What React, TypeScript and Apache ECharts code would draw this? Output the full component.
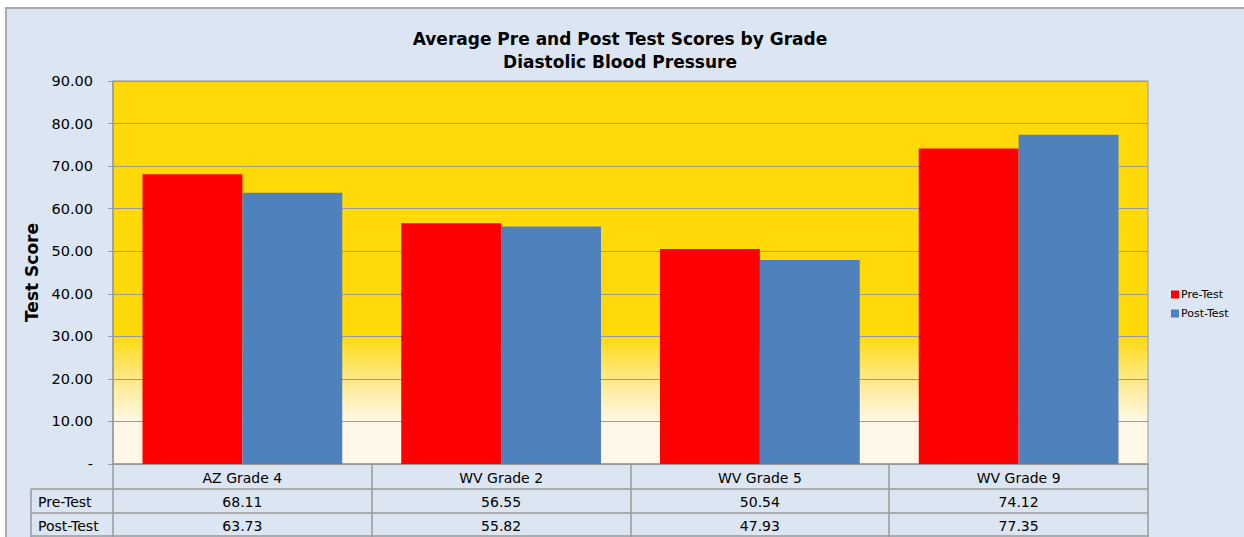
import React, { useEffect, useRef } from "react";
import * as echarts from "echarts";

const categories = ["AZ Grade 4", "WV Grade 2", "WV Grade 5", "WV Grade 9"];
const seriesNames = ["Pre-Test", "Post-Test"];
const preTest = [68.11, 56.55, 50.54, 74.12];
const postTest = [63.73, 55.82, 47.93, 77.35];
const titleLines = ["Average Pre and Post Test Scores by Grade", "Diastolic Blood Pressure"];
const yAxisName = "Test Score";

const FONT = "DejaVu Sans";
const W = 1244;
const H = 537;
const GL = 113;
const GR = 1148;
const GT = 81;
const GB = 464;
const LINE = "#9a9a9a";

export default function App() {
  const ref = useRef<HTMLDivElement>(null);
  useEffect(() => {
    if (!ref.current) return;
    const chart = echarts.init(ref.current, null, { renderer: "svg" });
    const colW = (GR - GL) / categories.length;
    const rowY = [GB, 489, 513, 537];
    const graphics: any[] = [];
    graphics.push({ type: "line", shape: { x1: 31, y1: rowY[1], x2: GR, y2: rowY[1] }, style: { stroke: LINE, lineWidth: 1.5 } });
    graphics.push({ type: "line", shape: { x1: 31, y1: rowY[2], x2: GR, y2: rowY[2] }, style: { stroke: LINE, lineWidth: 1.5 } });
    graphics.push({ type: "line", shape: { x1: 31, y1: 536, x2: GR, y2: 536 }, style: { stroke: LINE, lineWidth: 1.5 } });
    graphics.push({ type: "line", shape: { x1: 31, y1: rowY[1], x2: 31, y2: 537 }, style: { stroke: LINE, lineWidth: 1.5 } });
    for (let i = 0; i <= categories.length; i++) {
      const x = Math.round(GL + i * colW);
      graphics.push({ type: "line", shape: { x1: x, y1: GB, x2: x, y2: 537 }, style: { stroke: LINE, lineWidth: 1.5 } });
    }
    const rows = [preTest, postTest];
    categories.forEach((c, i) => {
      const cx = GL + (i + 0.5) * colW;
      graphics.push({ type: "text", x: cx, y: (rowY[0] + rowY[1]) / 2 + 1, style: { text: c, fill: "#000", font: `14px '${FONT}'`, align: "center", verticalAlign: "middle" } });
      rows.forEach((r, j) => {
        graphics.push({ type: "text", x: cx, y: (rowY[j + 1] + rowY[j + 2]) / 2 + 1, style: { text: r[i].toFixed(2), fill: "#000", font: `14px '${FONT}'`, align: "center", verticalAlign: "middle" } });
      });
    });
    seriesNames.forEach((n, j) => {
      graphics.push({ type: "text", x: 38, y: (rowY[j + 1] + rowY[j + 2]) / 2 + 1, style: { text: n, fill: "#000", font: `14px '${FONT}'`, align: "left", verticalAlign: "middle" } });
    });

    chart.setOption({
      animation: false,
      backgroundColor: "transparent",
      title: {
        text: titleLines.join("\n"),
        left: 615,
        top: 22,
        textAlign: "center",
        textStyle: { fontFamily: FONT, fontSize: 17, fontWeight: "bold", color: "#000", lineHeight: 23 },
      },
      legend: {
        orient: "vertical",
        left: 1166,
        top: 284,
        itemWidth: 8,
        itemHeight: 8,
        itemGap: 8,
        icon: "rect",
        data: seriesNames,
        textStyle: { fontFamily: FONT, fontSize: 11, color: "#000", padding: [0, 0, 0, -3] },
      },
      grid: {
        left: GL,
        right: W - GR,
        top: GT,
        bottom: H - GB,
        show: true,
        borderColor: LINE,
        borderWidth: 1,
        backgroundColor: new echarts.graphic.LinearGradient(0, 0, 0, 1, [
          { offset: 0, color: "#FFD908" },
          { offset: 0.66, color: "#FFD908" },
          { offset: 0.78, color: "#FFE98A" },
          { offset: 0.89, color: "#FFF8E8" },
          { offset: 1, color: "#FFF8E8" },
        ]),
      },
      xAxis: {
        type: "category",
        data: categories,
        axisLine: { show: true, lineStyle: { color: LINE, width: 1.5 } },
        axisTick: { show: false },
        axisLabel: { show: false },
      },
      yAxis: {
        type: "value",
        min: 0,
        max: 90,
        interval: 10,
        name: yAxisName,
        nameLocation: "middle",
        nameGap: 72,
        nameTextStyle: { fontFamily: FONT, fontSize: 17, fontWeight: "bold", color: "#000" },
        axisLine: { show: true, lineStyle: { color: LINE, width: 1.5 } },
        axisTick: { show: true, length: 5, lineStyle: { color: LINE } },
        axisLabel: {
          margin: 20,
          fontFamily: FONT,
          fontSize: 14.5,
          color: "#000",
          formatter: (v: number) => (v === 0 ? "-" : v.toFixed(2)),
        },
        splitLine: { show: true, lineStyle: { color: LINE, width: 1 } },
      },
      series: [
        {
          name: seriesNames[0],
          type: "bar",
          data: preTest,
          barGap: "0%",
          barCategoryGap: "22.8%",
          itemStyle: { color: "#FF0000" },
        },
        {
          name: seriesNames[1],
          type: "bar",
          data: postTest,
          barGap: "0%",
          barCategoryGap: "22.8%",
          itemStyle: { color: "#4F81BD" },
        },
      ],
      graphic: graphics,
    });
    return () => chart.dispose();
  }, []);

  return (
    <div style={{ position: "absolute", left: 0, top: 0, width: W, height: H, background: "#fff", overflow: "hidden" }}>
      <div
        style={{
          position: "absolute",
          left: 5,
          top: 7,
          width: W,
          height: H,
          background: "#DCE6F2",
          borderTop: "2px solid #ABABAB",
          borderLeft: "2px solid #ABABAB",
        }}
      />
      <div ref={ref} style={{ position: "absolute", left: 0, top: 0, width: W, height: H }} />
    </div>
  );
}
